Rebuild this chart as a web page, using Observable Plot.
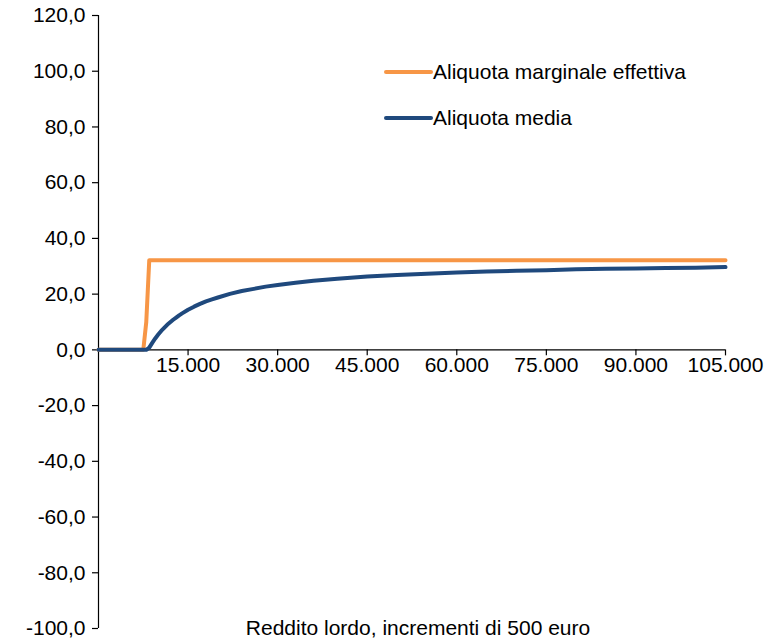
<!DOCTYPE html>
<html>
<head>
<meta charset="utf-8">
<script src="https://cdn.jsdelivr.net/npm/d3@7"></script>
<script src="https://cdn.jsdelivr.net/npm/@observablehq/plot@0.6"></script>
<style>
  html, body { margin: 0; padding: 0; background: #fff; }
  #chart svg { display: block; }
</style>
</head>
<body>
<div id="chart"></div>
<script>
const income = [0, 7500, 8000, 8500, 9000, 9500, 10000, 10500, 11000, 11500, 12000, 12500, 13000, 13500, 14000, 15000, 16000, 17000, 18000, 19000, 20000, 22000, 24000, 26000, 28000, 30000, 33000, 36000, 40000, 45000, 50000, 55000, 60000, 65000, 70000, 75000, 80000, 85000, 90000, 95000, 100000, 105000];
const marginale = [0, 0, 10, 32.2, 32.2, 32.2, 32.2, 32.2, 32.2, 32.2, 32.2, 32.2, 32.2, 32.2, 32.2, 32.2, 32.2, 32.2, 32.2, 32.2, 32.2, 32.2, 32.2, 32.2, 32.2, 32.2, 32.2, 32.2, 32.2, 32.2, 32.2, 32.2, 32.2, 32.2, 32.2, 32.2, 32.2, 32.2, 32.2, 32.2, 32.2, 32.2];
const media = [0, 0, 0, 0.8, 2.5, 4.1, 5.5, 6.8, 7.9, 9.0, 9.9, 10.8, 11.6, 12.4, 13.1, 14.4, 15.5, 16.5, 17.4, 18.1, 18.8, 20.1, 21.1, 21.9, 22.7, 23.3, 24.1, 24.8, 25.5, 26.3, 26.9, 27.3, 27.8, 28.1, 28.4, 28.6, 28.9, 29.1, 29.2, 29.4, 29.5, 29.7];
const seriesNames = ["Aliquota marginale effettiva", "Aliquota media"];
const colors = ["#F79646", "#1F497D"];
const xTicks = [15000, 30000, 45000, 60000, 75000, 90000, 105000];
const yTicks = [-100, -80, -60, -40, -20, 0, 20, 40, 60, 80, 100, 120];
const xLabel = "Reddito lordo, incrementi di 500 euro";

const rows = income.map((x, i) => ({x, m: marginale[i], a: media[i]}));
const fontFamily = "'Liberation Sans', Arial, sans-serif";
const fs = 21;
const fmtY = d => d.toFixed(1).replace(".", ",");
const fmtX = d => d3.format(",")(d).replace(/,/g, ".");

const W = 779, H = 641;
const plot = Plot.plot({
  width: W,
  height: H,
  marginLeft: 98,
  marginRight: 54,
  marginTop: 15,
  marginBottom: 13,
  style: {fontFamily, fontSize: fs + "px", color: "#000", background: "#fff"},
  x: {domain: [0, 105000], axis: null},
  y: {domain: [-100, 120], axis: null},
  marks: [
    Plot.axisY(yTicks, {anchor: "left", tickSize: 6, tickPadding: 7, tickFormat: fmtY, fontSize: fs, stroke: "#000", strokeWidth: 1.2}),
    Plot.ruleX([0], {y1: -100, y2: 120, stroke: "#000", strokeWidth: 1.2}),
    Plot.ruleY([0], {x1: 0, x2: 105000, stroke: "#000", strokeWidth: 1.2}),
    Plot.ruleX(xTicks, {x: d => d, y1: 0, y2: 0, insetBottom: -6, stroke: "#000", strokeWidth: 1.2}),
    Plot.text(xTicks, {x: d => d, y: 0, text: fmtX, dy: 7, lineAnchor: "top", fontSize: fs, fill: "#000"}),
    Plot.line(rows, {x: "x", y: "m", stroke: colors[0], strokeWidth: 4, strokeLinecap: "round", strokeLinejoin: "round"}),
    Plot.line(rows, {x: "x", y: "a", stroke: colors[1], strokeWidth: 4, strokeLinecap: "round", strokeLinejoin: "round"})
  ]
});

const svg = d3.select(plot);
const leg = svg.append("g").attr("font-family", fontFamily).attr("font-size", fs).attr("text-anchor", "start");
seriesNames.forEach((name, i) => {
  const y = 72 + i * 46;
  leg.append("line").attr("x1", 386).attr("x2", 431).attr("y1", y).attr("y2", y)
    .attr("stroke", colors[i]).attr("stroke-width", 4).attr("stroke-linecap", "round");
  leg.append("text").attr("x", 433).attr("y", y).attr("dy", "0.35em").attr("fill", "#000")
    .attr("text-anchor", "start").text(name);
});
svg.append("text").attr("x", 418).attr("y", 635).attr("text-anchor", "middle")
  .attr("font-family", fontFamily).attr("font-size", fs).attr("fill", "#000").text(xLabel);

document.getElementById("chart").appendChild(plot);
</script>
</body>
</html>
